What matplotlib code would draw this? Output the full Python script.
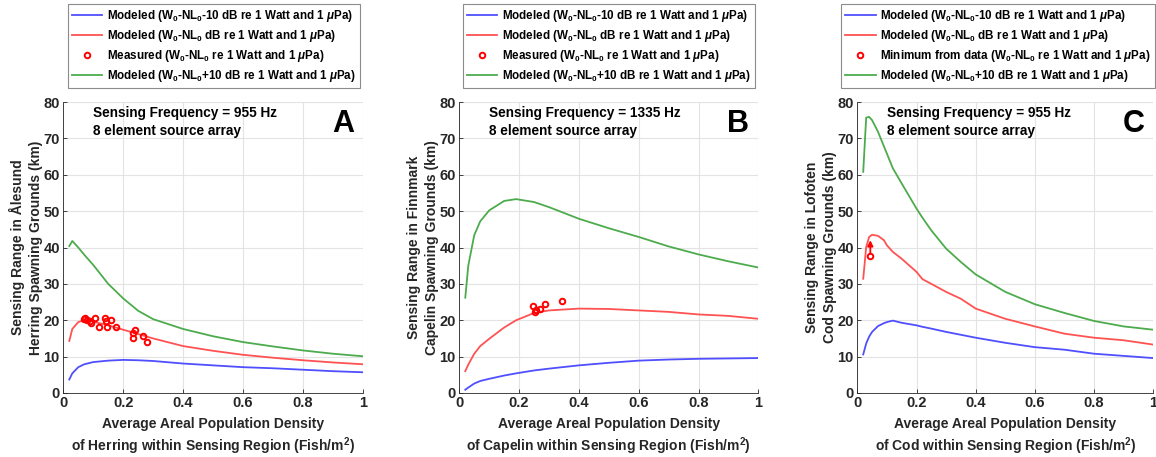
import matplotlib.pyplot as plt

plt.rcParams['font.family'] = ['Liberation Sans', 'DejaVu Sans']
plt.rcParams['font.weight'] = 'bold'
plt.rcParams['mathtext.fontset'] = 'custom'
plt.rcParams['mathtext.rm'] = 'Liberation Sans:bold'
plt.rcParams['mathtext.bf'] = 'Liberation Sans:bold'
plt.rcParams['mathtext.it'] = 'Liberation Sans:italic:bold'

# ---- panel A: herring, Alesund ----
a_x = [0.02, 0.03, 0.05, 0.07, 0.1, 0.15, 0.2, 0.25, 0.3, 0.4, 0.5, 0.6, 0.7, 0.8, 0.9, 1.0]
a_green = [40.4, 41.8, 40.0, 38.0, 35.2, 30.0, 26.0, 22.6, 20.3, 17.6, 15.6, 14.0, 12.8, 11.7, 10.8, 10.1]
a_red = [14.3, 17.6, 19.5, 20.0, 19.6, 18.6, 17.4, 16.2, 15.0, 12.9, 11.6, 10.5, 9.7, 9.0, 8.4, 7.9]
a_blue = [3.7, 5.4, 7.1, 7.9, 8.5, 8.9, 9.1, 9.0, 8.8, 8.1, 7.6, 7.1, 6.8, 6.4, 6.0, 5.7]
a_meas_x = [0.069, 0.074, 0.080, 0.089, 0.092, 0.105, 0.119, 0.139, 0.143, 0.145, 0.159, 0.177,
            0.232, 0.238, 0.234, 0.267, 0.278]
a_meas_y = [20.4, 20.5, 20.2, 19.7, 19.3, 20.6, 18.1, 20.6, 19.8, 18.1, 20.2, 18.1,
            16.6, 17.2, 15.2, 15.7, 14.0]

# ---- panel B: capelin, Finnmark ----
b_x = [0.02, 0.03, 0.05, 0.07, 0.1, 0.15, 0.19, 0.25, 0.3, 0.4, 0.5, 0.6, 0.7, 0.8, 0.9, 1.0]
b_green = [26.2, 35.0, 43.4, 47.2, 50.2, 52.8, 53.3, 52.5, 51.1, 47.9, 45.3, 42.9, 40.3, 38.1, 36.2, 34.5]
b_red = [6.0, 7.8, 10.8, 12.9, 14.9, 18.0, 20.0, 22.0, 22.7, 23.2, 23.1, 22.7, 22.3, 21.6, 21.2, 20.4]
b_blue = [0.9, 1.5, 2.6, 3.3, 3.9, 4.8, 5.4, 6.2, 6.7, 7.6, 8.3, 8.9, 9.2, 9.4, 9.5, 9.6]
b_meas_x = [0.247, 0.252, 0.255, 0.270, 0.288, 0.344]
b_meas_y = [23.9, 22.2, 22.9, 23.0, 24.4, 25.4]

# ---- panel C: cod, Lofoten ----
c_x = [0.02, 0.03, 0.04, 0.05, 0.07, 0.09, 0.1, 0.12, 0.15, 0.2, 0.22, 0.25, 0.3, 0.35, 0.4,
       0.5, 0.6, 0.7, 0.8, 0.9, 1.0]
c_green = [60.8, 75.7, 75.9, 75.0, 71.8, 67.8, 65.8, 61.8, 57.6, 50.7, 48.2, 44.7, 39.7, 36.0, 32.6,
           27.8, 24.4, 22.0, 19.8, 18.3, 17.4]
c_red = [31.4, 40.1, 42.9, 43.5, 43.2, 42.0, 40.6, 38.8, 36.9, 33.3, 31.3, 30.0, 27.8, 25.9, 23.2,
         20.4, 18.3, 16.3, 15.2, 14.5, 13.3]
c_blue = [10.6, 13.6, 15.5, 16.8, 18.4, 19.2, 19.5, 19.9, 19.3, 18.6, 18.2, 17.7, 16.8, 16.0, 15.2,
          13.8, 12.6, 11.9, 10.8, 10.2, 9.6]
c_meas_x = [0.044]
c_meas_y = [37.7]
c_arrow_top = 42.0

BLUE = '#4f4fff'
RED = '#ff5252'
GREEN = '#4dab4d'
AX = '#262626'

panels = [
    dict(x=a_x, g=a_green, r=a_red, b=a_blue, mx=a_meas_x, my=a_meas_y, letter='A', freq='955 Hz',
         fish='Herring', place='Ålesund', meas='Measured', left=63.3, width=299.5, leg=(71, 357)),
    dict(x=b_x, g=b_green, r=b_red, b=b_blue, mx=b_meas_x, my=b_meas_y, letter='B', freq='1335 Hz',
         fish='Capelin', place='Finnmark', meas='Measured', left=459.3, width=299.0, leg=(466, 752)),
    dict(x=c_x, g=c_green, r=c_red, b=c_blue, mx=c_meas_x, my=c_meas_y, letter='C', freq='955 Hz',
         fish='Cod', place='Lofoten', meas='Minimum from data', left=857.3, width=296.0, leg=(845, 1151)),
]

W, H = 1156, 457
fig = plt.figure(figsize=(W / 100, H / 100), dpi=100)

for i, p in enumerate(panels):
    ax = fig.add_axes([p['left'] / W, 1 - 393 / H, p['width'] / W, 291 / H])
    lb, = ax.plot(p['x'], p['b'], color=BLUE, lw=1.3)
    lr, = ax.plot(p['x'], p['r'], color=RED, lw=1.3)
    mk, = ax.plot(p['mx'], p['my'], 'o', ms=4, mfc='none', mec='red', mew=1.4, lw=0)
    lg, = ax.plot(p['x'], p['g'], color=GREEN, lw=1.3)
    if p['letter'] == 'C':
        ax.annotate('', xy=(c_meas_x[0], c_arrow_top), xytext=(c_meas_x[0], c_meas_y[0] + 0.6),
                    arrowprops=dict(arrowstyle='-|>', color='red', lw=1.3, mutation_scale=8,
                                    shrinkA=0, shrinkB=0))

    ax.set_xlim(0, 1)
    ax.set_ylim(0, 80)
    ax.set_xticks([0, 0.2, 0.4, 0.6, 0.8, 1])
    ax.set_xticklabels(['0', '0.2', '0.4', '0.6', '0.8', '1'])
    ax.set_yticks(range(0, 81, 10))
    ax.grid(True, color='#e3e3e3', lw=0.8)
    ax.set_axisbelow(True)
    for s in ['top', 'right']:
        ax.spines[s].set_visible(False)
    for s in ['left', 'bottom']:
        ax.spines[s].set_color(AX)
        ax.spines[s].set_linewidth(0.6)
    ax.tick_params(direction='in', length=3, width=0.6, color=AX, labelcolor=AX, labelsize=10.5, pad=2.5)
    for t in ax.get_xticklabels() + ax.get_yticklabels():
        t.set_fontweight('bold')

    ax.set_xlabel('Average Areal Population Density\nof %s within Sensing Region (Fish/m$^2$)' % p['fish'],
                  fontsize=10, fontweight='bold', color=AX, linespacing=1.25, labelpad=5)
    ax.set_ylabel('Sensing Range in %s\n%s Spawning Grounds (km)' % (p['place'], p['fish']),
                  fontsize=10, fontweight='bold', color=AX, linespacing=1.35, labelpad=0)

    ax.text(0.10, 0.985, 'Sensing Frequency = %s\n8 element source array' % p['freq'],
            transform=ax.transAxes, ha='left', va='top', fontsize=9.8, fontweight='bold', linespacing=1.3)
    ax.text(0.97, 0.975, p['letter'], transform=ax.transAxes, ha='right', va='top',
            fontsize=22, fontweight='bold')

    x0, x1 = p['leg']
    handles = [lb, lr, mk, lg]
    labels = ['Modeled (W$_0$-NL$_0$-10 dB re 1 Watt and 1 $\\mu$Pa)',
              'Modeled (W$_0$-NL$_0$ dB re 1 Watt and 1 $\\mu$Pa)',
              '%s (W$_0$-NL$_0$ re 1 Watt and 1 $\\mu$Pa)' % p['meas'],
              'Modeled (W$_0$-NL$_0$+10 dB re 1 Watt and 1 $\\mu$Pa)']
    leg = fig.legend(handles, labels, loc='upper center',
                     bbox_to_anchor=((x0 + x1) / 2 / W, 1 - 4 / H),
                     prop=dict(family='Liberation Sans', weight='bold', size=8.4),
                     frameon=True, fancybox=False, edgecolor='#8c8c8c', framealpha=1,
                     handlelength=2.6, handletextpad=0.4, labelspacing=0.35,
                     borderpad=0.35, borderaxespad=0, markerscale=1.0)
    leg.get_frame().set_linewidth(0.8)

fig.savefig('out.png', dpi=100)
